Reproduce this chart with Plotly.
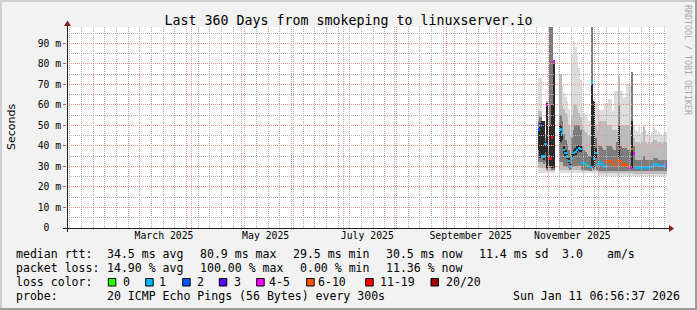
import plotly.graph_objects as go
import pandas as pd

# ---------------- data (ms), one value per day from 2025-10-25 ----------------
start_day = "2025-10-25"
N = None
light_lo = [N,27,27,27,27,27,27,27,27,27,27,N,N,N,27,27,27,27,27,27,27,27,27,27,27,27,27,27,27,27,27,27,27,27,27,27,27,
            25.5,25.5,25.5,25.5,25.5,25.5,25.5,25.5,25.5,25.5,25.5,25.5,25.5,25.5,25.5,25.5,25.5,25.5,25.5,25.5,25.5,
            25.5,25.5,25.5,25.5,25.5,25.5,25.5,25.5,25.5,25.5,25.5,25.5,25.5,25.5,25.5,25.5,25.5,25.5,25.5,25.5,25.5]
light_hi = [N,73,73,52,52,46,62,42,98,98,82,N,N,N,75,69,66,64,62,58,50,85,91,88,84,78,72,58,56,55,53,52,52,98,63,62,60,
            57.6,57.6,57,58,61,61,63,63,57,57,67,67,74,67,67,64,64,70,70,70,76,
            50,48,47,49,46,47,50,48,46,47,45,47,49,48,46,47,46,45,46,47,46]
mid_lo = [N,29,29,29,29,29,28,29,28,28,28,N,N,N,28.5,28.5,28.5,28.5,28.5,28.5,28.5,28.5,28.5,28.5,28.5,28.5,28.5,28,28,28,28,28,28,28,28,28.5,28,
          27,27,27,27,27,27,27,27,27,27,27,27,27,27,27,27,27,27,27,27,27,
          26.5,26.5,26.5,26.5,26.5,26.5,26.5,26.5,26.5,26.5,26.5,26.5,26.5,26.5,26.5,26.5,26.5,26.5,26.5,26.5,26.5]
mid_hi = [N,57,57,52,52,44,62,39,98,98,82,N,N,N,75,60,58,56,54,50,45,55,60,60,58,56,54,50,48,47,46,45,45,98,62,50,48,
          52,52,52,52,52,50,50,50,48,48,48,48,74,50,50,50,50,50,50,48,76,
          44,42,42,42,41,42,49,42,41,42,41,42,43,43,42,42,42,41,42,42,42]
dark_lo = [N,32,32,32,31,32,28.5,31,29,28.5,28.5,N,N,N,32,32,30,30,29.5,29,28.5,29.5,30,30,30,30.5,30,28.5,28.5,28.5,28.5,28.5,28,29,28.5,30,28.5,
           28,28,28,28,28,28,28,28,28,28,28,28,28,28,28,28,28,28,28,28,28,
           28,28,28,28,28,28,28,28,28,28,28,28,28,28,28,28,28,28,28,28,28]
dark_hi = [N,52,54,52,52,44,61,38,98,98,81,N,N,N,55,52,46,43,41,38,35,44,48,50,50,50,48,40,38,37,36,35,35,98,62,44,36,
           40,40,39,38,38,40,40,40,39,38,38,42,60,40,39,39,39,38,38,37,76,
           40,33,33,33,33,33,35,33,33,33,33,33,34,34,34,33,33,33,33,33,33]
core_lo = [N,38,34,34,33,37,29,N,30,29,29,N,N,N,42,43,36,35,33.5,31.5,29,33,35,35.5,36.5,37.5,37,N,N,N,N,N,N,30,29,34,N,
           N,N,N,N,N,N,N,N,N,N,N,N,34,N,N,N,N,N,N,N,29,
           N,N,N,N,N,N,N,N,N,N,N,N,N,N,N,N,N,N,N,N,N]
core_hi = [N,48,51,52,52,42,61,N,50,60,80,N,N,N,50,47,40,38,36,34,31,36,38,39,40,40.5,40,N,N,N,N,N,N,71,62,39,N,
           N,N,N,N,N,N,N,N,N,N,N,N,50,N,N,N,N,N,N,N,52,
           N,N,N,N,N,N,N,N,N,N,N,N,N,N,N,N,N,N,N,N,N]
median = [N,48,50,35,35,41,60,35,34,44,81,N,N,N,48,46,38,36.5,34.7,32.7,30,34,36.5,37,38,39,38.5,31.7,31.5,31.2,30.2,30,29.8,71,34,36.6,30.5,
          32,31.5,31,30,29.9,32.3,32.3,32.5,32.5,31,30.7,33,38.5,32.3,31,31,31,30.2,30.2,29.4,38.5,
          36.4,29.6,29.6,29.5,29.5,29.7,29.8,29.6,29.5,29.6,29.7,30,31,31.2,31,30.3,30.2,30.2,30.3,30.4,30.3]
loss = [N,2,2,1,1,1,4,1,12,15,5,N,N,N,1,1,1,1,1,1,1,1,1,1,1,1,1,1,1,1,0,1,1,1,1,1,1,
        1,1,1,1,1,7,7,7,7,7,7,7,7,7,7,7,7,7,7,4,7,
        4,1,1,1,1,1,1,1,1,1,1,1,1,1,1,1,1,1,1,1,4]

loss_labels = ["0", "1", "2", "3", "4-5", "6-10", "11-19", "20/20"]
loss_upper = [0, 1, 2, 3, 5, 10, 19, 20]
loss_colors = ["#26ff00", "#00b8ff", "#0059ff", "#5e00ff", "#ff00ff", "#ff5500", "#ff0000", "#a10000"]

y_tick_vals = [0, 10, 20, 30, 40, 50, 60, 70, 80, 90]
y_tick_text = ["0\u00a0\u00a0"] + [f"{v}\u00a0m" for v in y_tick_vals[1:]]
x_tick_vals = ["2025-03-15 12:00", "2025-05-15 12:00", "2025-07-15 12:00", "2025-09-15 12:00", "2025-11-15 12:00"]
x_tick_text = ["March 2025", "May 2025", "July 2025", "September 2025", "November 2025"]

legend_rows = [
    ("median rtt:", [("34.5 ms avg", 107.3), ("80.9 ms max", 200), ("29.5 ms min", 293.3),
                     ("30.5 ms now", 386), ("11.4 ms sd", 479.3), ("3.0", 561.7), ("am/s", 607.3)]),
    ("packet loss:", [("14.90 % avg", 107.3), ("100.00 % max", 200), ("0.00 % min", 300), ("11.36 % now", 386)]),
    ("loss color:", []),
    ("probe:", [("20 ICMP Echo Pings (56 Bytes) every 300s", 107.3), ("Sun Jan 11 06:56:37 2026", 513.3)]),
]

x_start = "2025-01-16 06:56:37"
x_end = "2026-01-11 06:56:37"
y_top = 97.95

# ---------------- helpers ----------------
W, H = 697, 310
L, R, T, B = 67, 667, 27, 228
def px_x(p): return (p - L) / (R - L)
def px_y(p): return (B - p) / (B - T)

t0, t1 = pd.Timestamp(x_start), pd.Timestamp(x_end)
def date_px(d): return L + (pd.Timestamp(d) - t0) / (t1 - t0) * (R - L)
def val_px(v): return B - v / y_top * (B - T)
def snap(p): return round(p - 0.5) + 0.5

MONO = "DejaVu Sans Mono"
days = pd.date_range(start_day, periods=len(median), freq="D") + pd.Timedelta(hours=12)
DAY_MS = 86400000

def span(lo, hi):
    return [None if (a is None or b is None) else b - a for a, b in zip(lo, hi)]

def loss_color(n):
    if n is None:
        return "rgba(0,0,0,0)"
    for up, c in zip(loss_upper, loss_colors):
        if n <= up:
            return c
    return loss_colors[-1]

fig = go.Figure()
for lo, hi, col in [(light_lo, light_hi, "#dddddd"), (mid_lo, mid_hi, "#bcbcbc"),
                    (dark_lo, dark_hi, "#7c7c7c"), (core_lo, core_hi, "#2a2a2a")]:
    fig.add_trace(go.Bar(x=days, base=lo, y=span(lo, hi), width=DAY_MS,
                         marker=dict(color=col, line=dict(width=0)), hoverinfo="skip"))
med_base = [None if m is None else m - 0.65 for m in median]
med_h = [None if m is None else 1.3 for m in median]
fig.add_trace(go.Bar(x=days, base=med_base, y=med_h, width=DAY_MS,
                     marker=dict(color=[loss_color(n) for n in loss], line=dict(width=0)), hoverinfo="skip"))

shapes = []
GRID = "#b0b0b0"
MGRID = "#eb9595"
dash = "1px,1px"
def vline(d, color, y_bottom=B):
    xp = px_x(snap(date_px(d)))
    return dict(type="line", xref="paper", yref="paper", x0=xp, x1=xp, y0=px_y(y_bottom), y1=1,
                line=dict(color=color, width=1, dash=dash), layer="above")
def hline(v, color):
    yp = px_y(snap(val_px(v)))
    return dict(type="line", xref="paper", yref="paper", x0=0, x1=1, y0=yp, y1=yp,
                line=dict(color=color, width=1, dash=dash), layer="above")

for d in pd.date_range("2025-01-18", x_end, freq="7D"):
    shapes.append(vline(d, GRID))
for d in pd.date_range("2025-02-01", x_end, freq="MS"):
    shapes.append(vline(d, MGRID, 230))
for v in range(5, 100, 10):
    shapes.append(hline(v, GRID))
for v in y_tick_vals[1:]:
    shapes.append(hline(v, MGRID))

AX = "#1f1f1f"
ARROW = "#801f1f"
shapes += [
    dict(type="line", xref="paper", yref="paper", x0=px_x(67.5), x1=px_x(67.5), y0=px_y(232), y1=px_y(24),
         line=dict(color=AX, width=1), layer="above"),
    dict(type="line", xref="paper", yref="paper", x0=px_x(63), x1=px_x(670), y0=px_y(228.5), y1=px_y(228.5),
         line=dict(color=AX, width=1), layer="above"),
    dict(type="path", xref="paper", yref="paper", layer="above", fillcolor=ARROW, line=dict(width=0),
         path=f"M {px_x(64)},{px_y(26)} L {px_x(67.5)},{px_y(20.5)} L {px_x(71)},{px_y(26)} Z"),
    dict(type="path", xref="paper", yref="paper", layer="above", fillcolor=ARROW, line=dict(width=0),
         path=f"M {px_x(669)},{px_y(225)} L {px_x(674)},{px_y(228.5)} L {px_x(669)},{px_y(232)} Z"),
    # 3D frame
    dict(type="rect", xref="paper", yref="paper", x0=px_x(0), x1=px_x(W), y0=px_y(0), y1=px_y(2),
         fillcolor="#cfcfcf", line=dict(width=0), layer="above"),
    dict(type="rect", xref="paper", yref="paper", x0=px_x(0), x1=px_x(2), y0=px_y(0), y1=px_y(H),
         fillcolor="#cfcfcf", line=dict(width=0), layer="above"),
    dict(type="rect", xref="paper", yref="paper", x0=px_x(0), x1=px_x(W), y0=px_y(H - 2), y1=px_y(H),
         fillcolor="#9e9e9e", line=dict(width=0), layer="above"),
    dict(type="rect", xref="paper", yref="paper", x0=px_x(W - 2), x1=px_x(W), y0=px_y(0), y1=px_y(H),
         fillcolor="#9e9e9e", line=dict(width=0), layer="above"),
]

annotations = []
def text(s, x, y, size=11.55, family=MONO, color="#000", angle=0, xanchor="left"):
    annotations.append(dict(text=s, x=px_x(x), y=px_y(y), xref="paper", yref="paper", showarrow=False,
                            xanchor=xanchor, yanchor="middle", textangle=angle, borderpad=0, borderwidth=0,
                            font=dict(family=family, size=size, color=color)))

row_y = [254.3, 268.3, 282.3, 296]
for (label, items), y in zip(legend_rows, row_y):
    text(label, 16, y)
    for s, x in items:
        text(s, x, y)
box_x = [108.3, 145.7, 182.7, 219.3, 256.7, 306.7, 365.7, 431]
lab_x = [122.7, 159.3, 197, 233.7, 269.3, 318.3, 380, 445.7]
for bx, lx, lab, col in zip(box_x, lab_x, loss_labels, loss_colors):
    shapes.append(dict(type="rect", xref="paper", yref="paper", x0=px_x(bx), x1=px_x(bx + 7.5),
                       y0=px_y(278.5), y1=px_y(286), fillcolor=col, line=dict(color="#000", width=1), layer="above"))
    text(lab, lx, row_y[2])

text("Seconds", 12, 127, size=11, family="DejaVu Sans", angle=-90, xanchor="center")
text("RRDTOOL / TOBI OETIKER", 688, 60, size=8.3, color="#a8a8a8", angle=90, xanchor="center")

fig.update_layout(
    width=W, height=H, margin=dict(l=L, r=W - R, t=T, b=H - B, pad=0),
    paper_bgcolor="#f2f2f2", plot_bgcolor="#ffffff",
    barmode="overlay", showlegend=False, bargap=0,
    title=dict(text="Last 360 Days from smokeping to linuxserver.io", x=0.5, xref="container", xanchor="center",
               y=1 - 20 / H, yref="container", yanchor="middle",
               font=dict(family=MONO, size=13.3, color="#000")),
    xaxis=dict(type="date", range=[x_start, x_end], tickvals=x_tick_vals, ticktext=x_tick_text,
               showgrid=False, zeroline=False, showline=False, ticks="",
               tickfont=dict(family=MONO, size=9.8, color="#000")),
    yaxis=dict(range=[0, y_top], tickvals=y_tick_vals, ticktext=y_tick_text, showgrid=False, zeroline=False,
               showline=False, ticks="outside", ticklen=3, tickcolor="#c06060",
               tickfont=dict(family=MONO, size=9.7, color="#000")),
    shapes=shapes, annotations=annotations,
)
fig.write_html("out.html")
